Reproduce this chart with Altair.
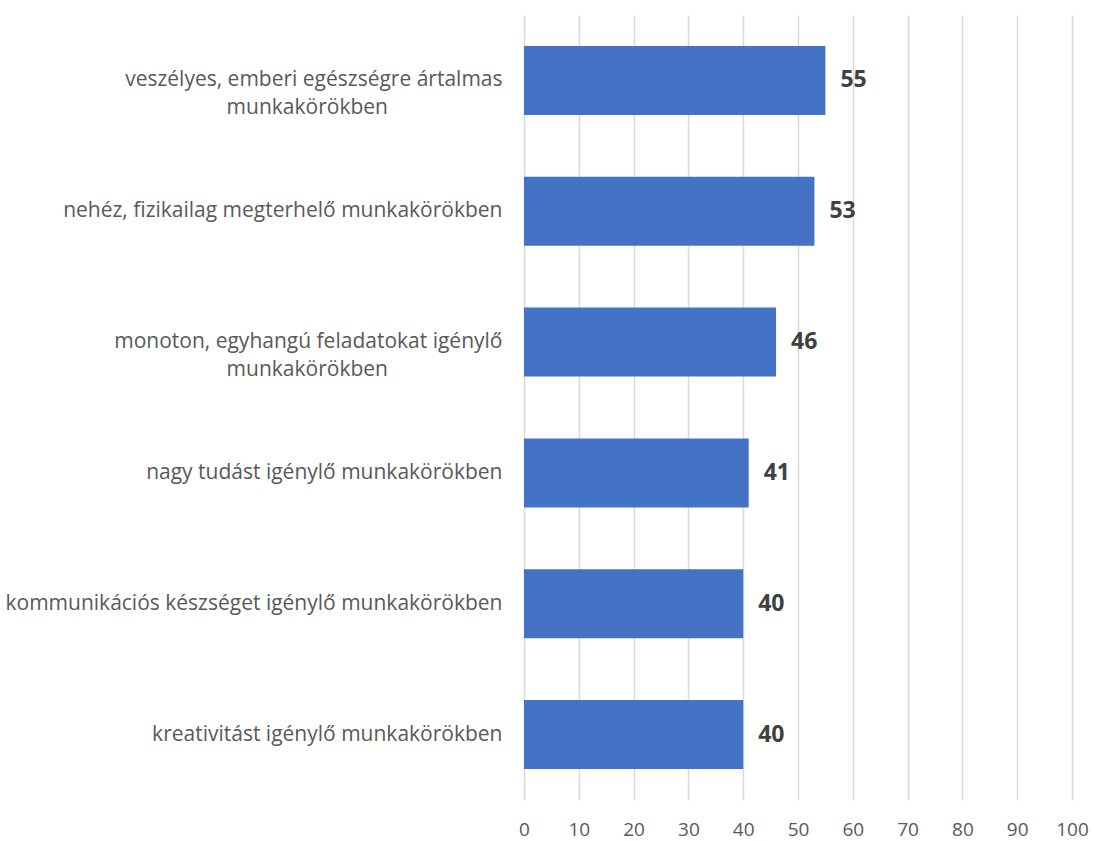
import altair as alt
import pandas as pd

categories = [
    "veszélyes, emberi egészségre ártalmas|munkakörökben",
    "nehéz, fizikailag megterhelő munkakörökben",
    "monoton, egyhangú feladatokat igénylő|munkakörökben",
    "nagy tudást igénylő munkakörökben",
    "kommunikációs készséget igénylő munkakörökben",
    "kreativitást igénylő munkakörökben",
]
values = [55, 53, 46, 41, 40, 40]

df = pd.DataFrame({"cat": categories, "val": values})

FONT = "Open Sans"
PAD = "\u00a0" * 21 + "\u200b"  # visually centre the second line under the first

label_expr = (
    "length(split(datum.label, '|')) > 1 ? "
    "[split(datum.label, '|')[0], split(datum.label, '|')[1] + '" + PAD + "'] : datum.label"
)

y_enc = alt.Y(
    "cat:N",
    sort=categories,
    title=None,
    scale=alt.Scale(paddingInner=0.472, paddingOuter=0.236),
    axis=alt.Axis(
        labelExpr=label_expr,
        domain=False,
        ticks=False,
        labelPadding=22,
        labelFont=FONT,
        labelFontSize=21,
        labelColor="#595959",
        labelLimit=700,
        labelLineHeight=28,
    ),
)
x_enc = alt.X(
    "val:Q",
    title=None,
    scale=alt.Scale(domain=[0, 100]),
    axis=alt.Axis(
        values=list(range(0, 101, 10)),
        domain=False,
        ticks=False,
        grid=True,
        gridColor="#d9d9d9",
        gridWidth=1.5,
        labelPadding=20,
        labelFlush=False,
        labelFont=FONT,
        labelFontSize=19,
        labelColor="#595959",
    ),
)

bars = alt.Chart(df).mark_bar(color="#4472C4").encode(x=x_enc, y=y_enc)
labels = alt.Chart(df).mark_text(
    align="left", dx=15, font=FONT, fontSize=23, fontWeight="bold", color="#404040"
).encode(x="val:Q", y=alt.Y("cat:N", sort=categories), text="val:Q")

chart = (
    alt.layer(bars, labels)
    .properties(width=548, height=785, background="white",
                padding={"top": 15, "left": 5, "right": 5, "bottom": 5})
    .configure_view(stroke=None)
)

chart.save("out.html", embed_options={"renderer": "svg", "actions": False})
